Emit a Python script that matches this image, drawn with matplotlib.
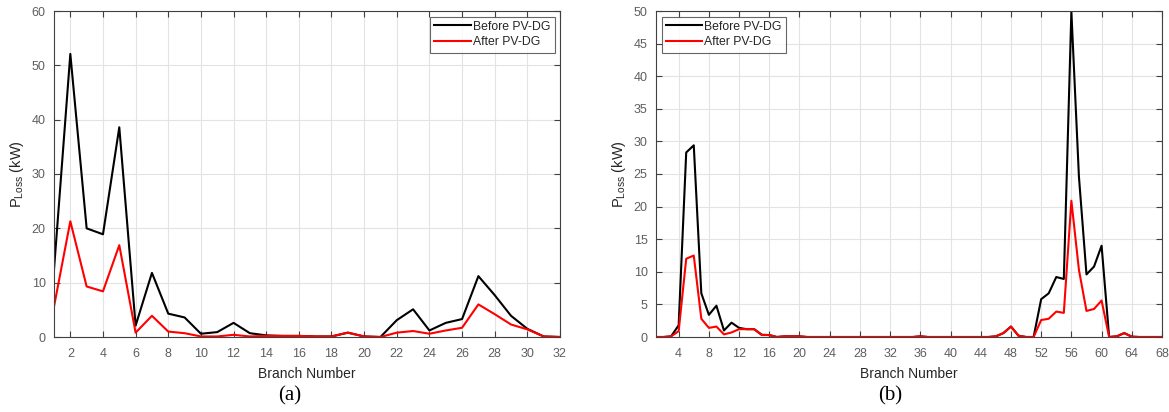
import matplotlib
matplotlib.use("Agg")
import matplotlib.pyplot as plt
import numpy as np

plt.rcParams["font.family"] = ["Liberation Sans", "DejaVu Sans"]
plt.rcParams["mathtext.fontset"] = "custom"
plt.rcParams["mathtext.rm"] = "Liberation Sans"

# 33-bus system, branch losses (kW)
branches_a = np.arange(1, 33)
before_a = [12.4, 52.1, 20.0, 18.9, 38.6, 2.1, 11.8, 4.3, 3.6, 0.6,
            0.9, 2.6, 0.7, 0.3, 0.2, 0.2, 0.1, 0.1, 0.8, 0.1,
            0.0, 3.1, 5.1, 1.2, 2.6, 3.3, 11.2, 7.7, 3.9, 1.5,
            0.1, 0.0]
after_a = [5.6, 21.3, 9.3, 8.4, 16.9, 0.8, 3.9, 1.0, 0.7, 0.1,
           0.1, 0.4, 0.1, 0.2, 0.2, 0.2, 0.1, 0.1, 0.8, 0.1,
           0.0, 0.8, 1.1, 0.6, 1.2, 1.7, 6.0, 4.2, 2.3, 1.4,
           0.1, 0.0]

# 69-bus system, branch losses (kW)
branches_b = np.arange(1, 69)
before_b = [0.0, 0.0, 0.1, 1.8, 28.3, 29.4, 6.7, 3.4, 4.8, 1.0,
            2.2, 1.4, 1.2, 1.2, 0.35, 0.3, 0.0, 0.1, 0.1, 0.1,
            0.0, 0.0, 0.0, 0.0, 0.0, 0.0, 0.0, 0.0, 0.0, 0.0,
            0.0, 0.0, 0.0, 0.0, 0.0, 0.1, 0.0, 0.0, 0.0, 0.0,
            0.0, 0.0, 0.0, 0.0, 0.0, 0.1, 0.6, 1.6, 0.2, 0.0,
            0.0, 5.8, 6.7, 9.2, 8.9, 49.9, 24.6, 9.6, 10.8, 14.0,
            0.0, 0.1, 0.6, 0.05, 0.0, 0.0, 0.0, 0.0]
after_b = [0.0, 0.0, 0.1, 0.9, 12.0, 12.5, 2.8, 1.4, 1.6, 0.4,
           0.7, 1.2, 1.2, 1.2, 0.3, 0.3, 0.0, 0.1, 0.1, 0.1,
           0.0, 0.0, 0.0, 0.0, 0.0, 0.0, 0.0, 0.0, 0.0, 0.0,
           0.0, 0.0, 0.0, 0.0, 0.0, 0.1, 0.0, 0.0, 0.0, 0.0,
           0.0, 0.0, 0.0, 0.0, 0.0, 0.1, 0.6, 1.6, 0.2, 0.0,
           0.0, 2.6, 2.8, 3.9, 3.7, 20.9, 10.3, 4.0, 4.3, 5.6,
           0.0, 0.1, 0.6, 0.05, 0.0, 0.0, 0.0, 0.0]

W, H = 1169, 412
fig = plt.figure(figsize=(W / 100, H / 100), dpi=100)


def style_axes(ax):
    ax.grid(True, color="#e3e3e3", linewidth=0.8)
    ax.set_axisbelow(True)
    ax.tick_params(direction="in", top=True, right=True, length=4,
                   labelsize=9, colors="#404040", labelcolor="#5e5e5e", pad=6)
    ax.tick_params(axis="x", pad=8)
    for s in ax.spines.values():
        s.set_color("#404040")
        s.set_linewidth(0.8)
    ax.set_xlabel("Branch Number", fontsize=10, color="#262626", labelpad=5)
    ax.set_ylabel(r"$\mathregular{P_{Loss}}$ (kW)", fontsize=10.5, color="#262626", labelpad=4)


def add_legend(ax, loc):
    leg = ax.legend(loc=loc, fontsize=8.8, frameon=True, fancybox=False,
                    edgecolor="#404040", handlelength=3.0, handletextpad=0.15,
                    borderpad=0.35, labelspacing=0.3, borderaxespad=0.45)
    leg.get_frame().set_linewidth(0.8)
    for t in leg.get_texts():
        t.set_color("#262626")


# (a)
ax1 = fig.add_axes([54 / W, 1 - 337 / H, (560 - 54) / W, (337 - 11) / H])
ax1.plot(branches_a, before_a, color="black", lw=1.5, label="Before PV-DG")
ax1.plot(branches_a, after_a, color="red", lw=1.5, label="After PV-DG")
ax1.set_xlim(1, 32)
ax1.set_ylim(0, 60)
ax1.set_xticks(np.arange(2, 33, 2))
ax1.set_yticks(np.arange(0, 61, 10))
style_axes(ax1)
add_legend(ax1, "upper right")

# (b)
ax2 = fig.add_axes([656 / W, 1 - 337 / H, (1162 - 656) / W, (337 - 11) / H])
ax2.plot(branches_b, before_b, color="black", lw=1.5, label="Before PV-DG")
ax2.plot(branches_b, after_b, color="red", lw=1.5, label="After PV-DG")
ax2.set_xlim(1, 68)
ax2.set_ylim(0, 50)
ax2.set_xticks(np.arange(4, 69, 4))
ax2.set_yticks(np.arange(0, 51, 5))
style_axes(ax2)
add_legend(ax2, "upper left")

fig.text(290 / W, 1 - 396 / H, "(a)", family="Liberation Serif", fontsize=15,
         ha="center", va="center")
fig.text(890 / W, 1 - 396 / H, "(b)", family="Liberation Serif", fontsize=15,
         ha="center", va="center")

fig.savefig("out.png", dpi=100)
